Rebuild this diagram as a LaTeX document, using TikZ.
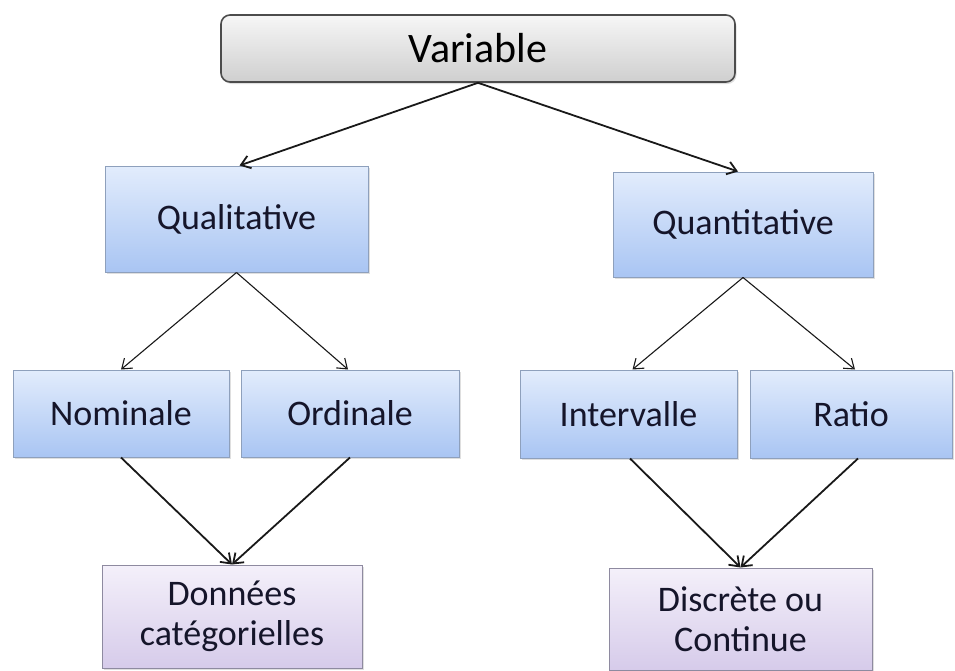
\documentclass[tikz,border=0pt]{standalone}
\usepackage{fontspec}
\setmainfont{Carlito}
\usetikzlibrary{arrows.meta,shadows}
\definecolor{boxtop}{HTML}{E2ECFC}
\definecolor{boxbot}{HTML}{A9C5F3}
\definecolor{boxline}{HTML}{8EA0BC}
\definecolor{lilactop}{HTML}{F4F0FA}
\definecolor{lilacbot}{HTML}{D6CBEA}
\definecolor{lilacline}{HTML}{8E8AA0}
\definecolor{greytop}{HTML}{F6F6F6}
\definecolor{greybot}{HTML}{CFCFCF}
\definecolor{inktext}{HTML}{15152A}
\tikzset{
  base/.style={font=\fontsize{36}{40}\selectfont, text=inktext, align=center,
    inner sep=0pt, drop shadow={shadow xshift=1.5pt, shadow yshift=-2pt, opacity=0.25}},
  rootbox/.style={base, font=\fontsize{42}{46}\selectfont, text=black,
    draw=black!70, line width=1.6pt, rounded corners=9pt,
    top color=greytop, bottom color=greybot, minimum width=514pt, minimum height=67pt},
  typebox/.style={base, draw=boxline, line width=1pt,
    top color=boxtop, bottom color=boxbot},
  leafbox/.style={base, draw=lilacline, line width=1pt,
    top color=lilactop, bottom color=lilacbot},
  link/.style={-{Straight Barb[length=9pt,width=13pt]}, draw=black!90},
  thick link/.style={link, line width=1.8pt},
  thin link/.style={link, line width=1.1pt},
}
\begin{document}
\begin{tikzpicture}[x=1pt, y=-1pt]
  \useasboundingbox (0,0) rectangle (955,670);

  \node[rootbox] (var) at (478,48.5) {Variable};

  \node[typebox, minimum width=263pt, minimum height=106pt] (qual) at (236.5,219) {Qualitative};
  \node[typebox, minimum width=260pt, minimum height=105pt] (quant) at (743,224.5) {Quantitative};

  \node[typebox, minimum width=216pt, minimum height=87pt] (nom) at (121,413.5) {Nominale};
  \node[typebox, minimum width=218pt, minimum height=87pt] (ord) at (350,413.5) {Ordinale};
  \node[typebox, minimum width=217pt, minimum height=88pt] (inter) at (628.5,414) {Intervalle};
  \node[typebox, minimum width=202pt, minimum height=88pt] (ratio) at (851,414) {Ratio};

  \node[leafbox, minimum width=260pt, minimum height=103pt] (cat) at (232,616.5) {Données\\catégorielles};
  \node[leafbox, minimum width=263pt, minimum height=102pt] (disc) at (740.5,619) {Discrète ou\\Continue};

  \draw[thick link] (var.south) -- ([xshift=3pt]qual.north);
  \draw[thick link] (var.south) -- ([xshift=-5pt]quant.north);

  \draw[thin link] (qual.south) -- (nom.north);
  \draw[thin link] (qual.south) -- ([xshift=-2pt]ord.north);
  \draw[thin link] (quant.south) -- ([xshift=4pt]inter.north);
  \draw[thin link] (quant.south) -- ([xshift=4pt]ratio.north);

  \draw[thick link] (nom.south) -- (cat.north);
  \draw[thick link] (ord.south) -- (cat.north);
  \draw[thick link] ([xshift=1.5pt]inter.south) -- (disc.north);
  \draw[thick link] ([xshift=7pt]ratio.south) -- (disc.north);
\end{tikzpicture}
\end{document}
